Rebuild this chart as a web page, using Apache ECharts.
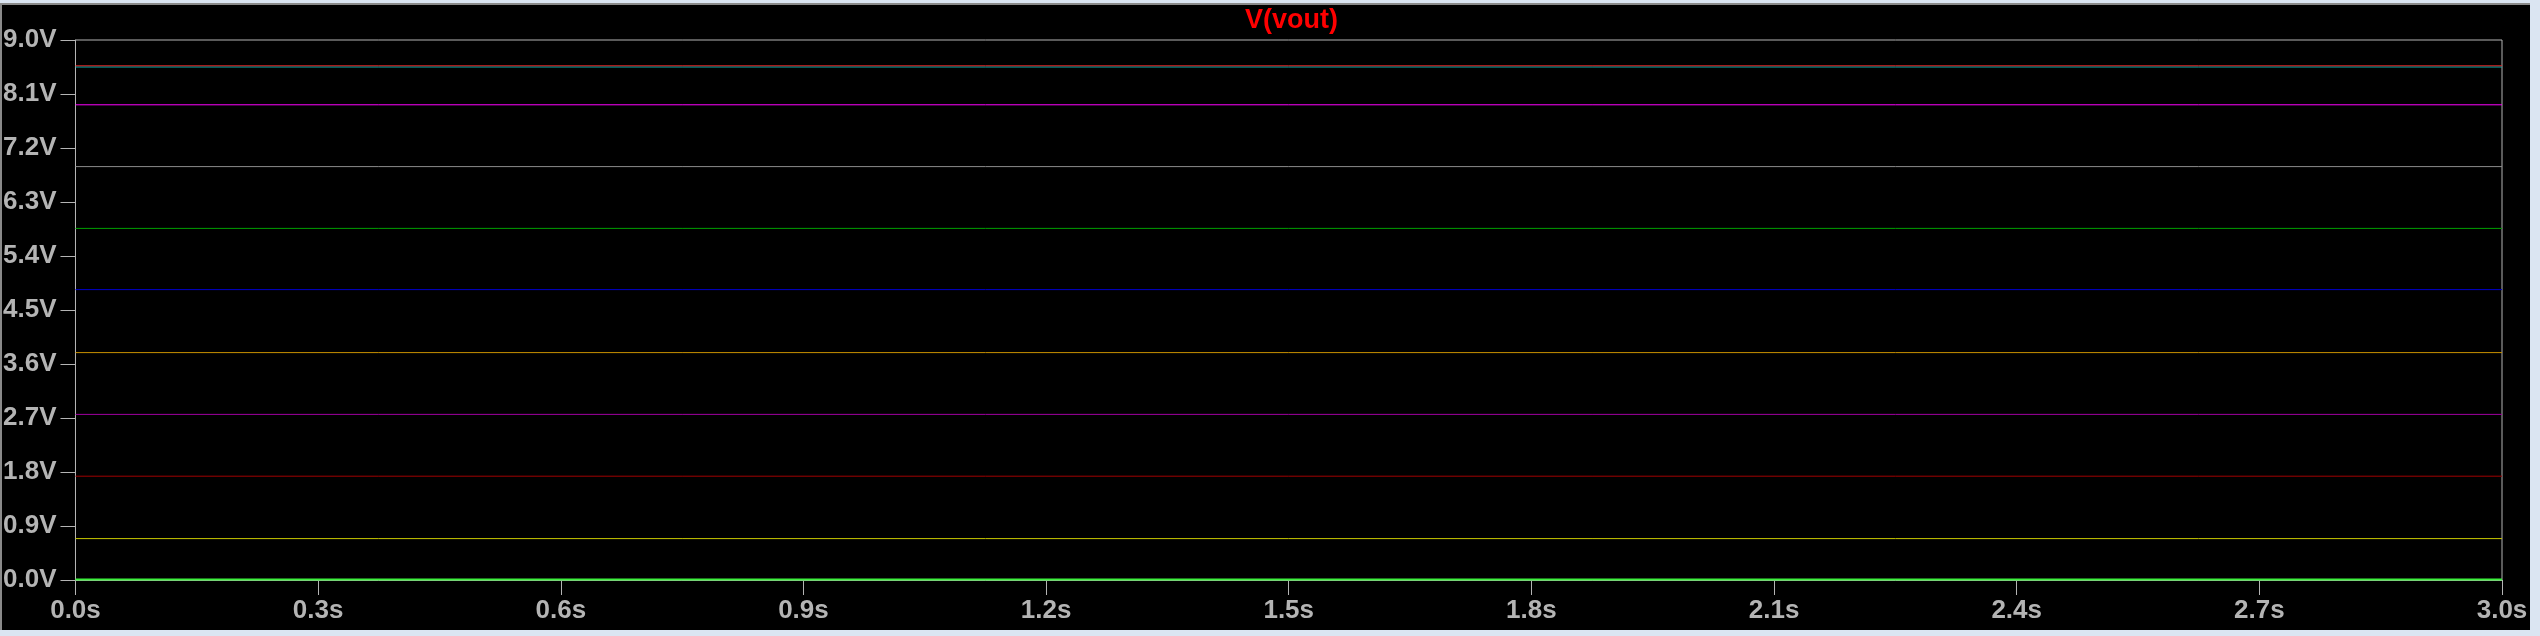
<!DOCTYPE html>
<html>
<head>
<meta charset="utf-8">
<script src="https://cdn.jsdelivr.net/npm/echarts@6/dist/echarts.min.js"></script>
<style>
  html, body { margin: 0; padding: 0; width: 2540px; height: 636px; background: #dbe5f2; overflow: hidden; }
  #frame { position: absolute; left: 0; top: 3px; width: 2528px; height: 625px; background: #000; border-top: 2px solid #8a8a8a; border-left: 2px solid #8a8a8a; }
  #chart { position: absolute; left: 0; top: 0; width: 2540px; height: 636px; }
</style>
</head>
<body>
<div id="frame"></div>
<div id="chart"></div>
<script>
// ---- data ----
const titleText = 'V(vout)';
const times = [0, 3];                     // seconds, start and end of the transient
const stepLevels = [0.01, 0.69, 1.73, 2.76, 3.79, 4.84, 5.86, 6.89, 7.92, 8.55, 8.57]; // V, one per stepped trace
const xTicks = { min: 0, max: 3, interval: 0.3 };
const yTicks = { min: 0, max: 9, interval: 0.9 };

// ---- styles ----
const traceColors = ['#3cf03c', '#c8c800', '#a00000', '#a000a0', '#c89000', '#0000c8', '#00a000', '#8c8c8c', '#ff00ff', '#00b4b4', '#e62828'];
const traceWidths = [2, 1, 1, 1, 1, 1, 1, 1, 1, 1, 1];
const axisGray = '#b4b4b4';
const labelGray = '#b4b4b4';

const series = stepLevels.map((v, i) => ({
  type: 'line',
  data: times.map(t => [t, v]),
  showSymbol: false,
  symbol: 'none',
  silent: true,
  lineStyle: { color: traceColors[i], width: traceWidths[i] },
  z: 2 + i
}));

const chart = echarts.init(document.getElementById('chart'), null, { renderer: 'canvas' });
chart.setOption({
  animation: false,
  backgroundColor: 'transparent',
  title: {
    text: titleText,
    left: 1240,
    top: 2,
    textStyle: { color: '#ff0000', fontFamily: 'Liberation Sans, Arial, sans-serif', fontWeight: 'bold', fontSize: 27 }
  },
  grid: { left: 74, right: 38, top: 40, bottom: 56, show: true, borderColor: axisGray, borderWidth: 1, backgroundColor: 'transparent' },
  xAxis: {
    type: 'value',
    min: xTicks.min, max: xTicks.max, interval: xTicks.interval,
    axisLine: { show: true, lineStyle: { color: axisGray, width: 1 } },
    axisTick: { show: true, length: 15, lineStyle: { color: axisGray, width: 1 } },
    splitLine: { show: false },
    axisLabel: {
      show: true, margin: 18, color: labelGray,
      fontFamily: 'Liberation Sans, Arial, sans-serif', fontWeight: 'bold', fontSize: 26,
      formatter: v => v.toFixed(1) + 's',
      showMinLabel: true, showMaxLabel: true
    }
  },
  yAxis: {
    type: 'value',
    min: yTicks.min, max: yTicks.max, interval: yTicks.interval,
    axisLine: { show: true, lineStyle: { color: axisGray, width: 1 } },
    axisTick: { show: true, length: 15, lineStyle: { color: axisGray, width: 1 } },
    splitLine: { show: false },
    axisLabel: {
      show: true, margin: 19, color: labelGray,
      fontFamily: 'Liberation Sans, Arial, sans-serif', fontWeight: 'bold', fontSize: 26,
      formatter: v => v.toFixed(1) + 'V',
      showMinLabel: true, showMaxLabel: true
    }
  },
  series: series
});
</script>
</body>
</html>
